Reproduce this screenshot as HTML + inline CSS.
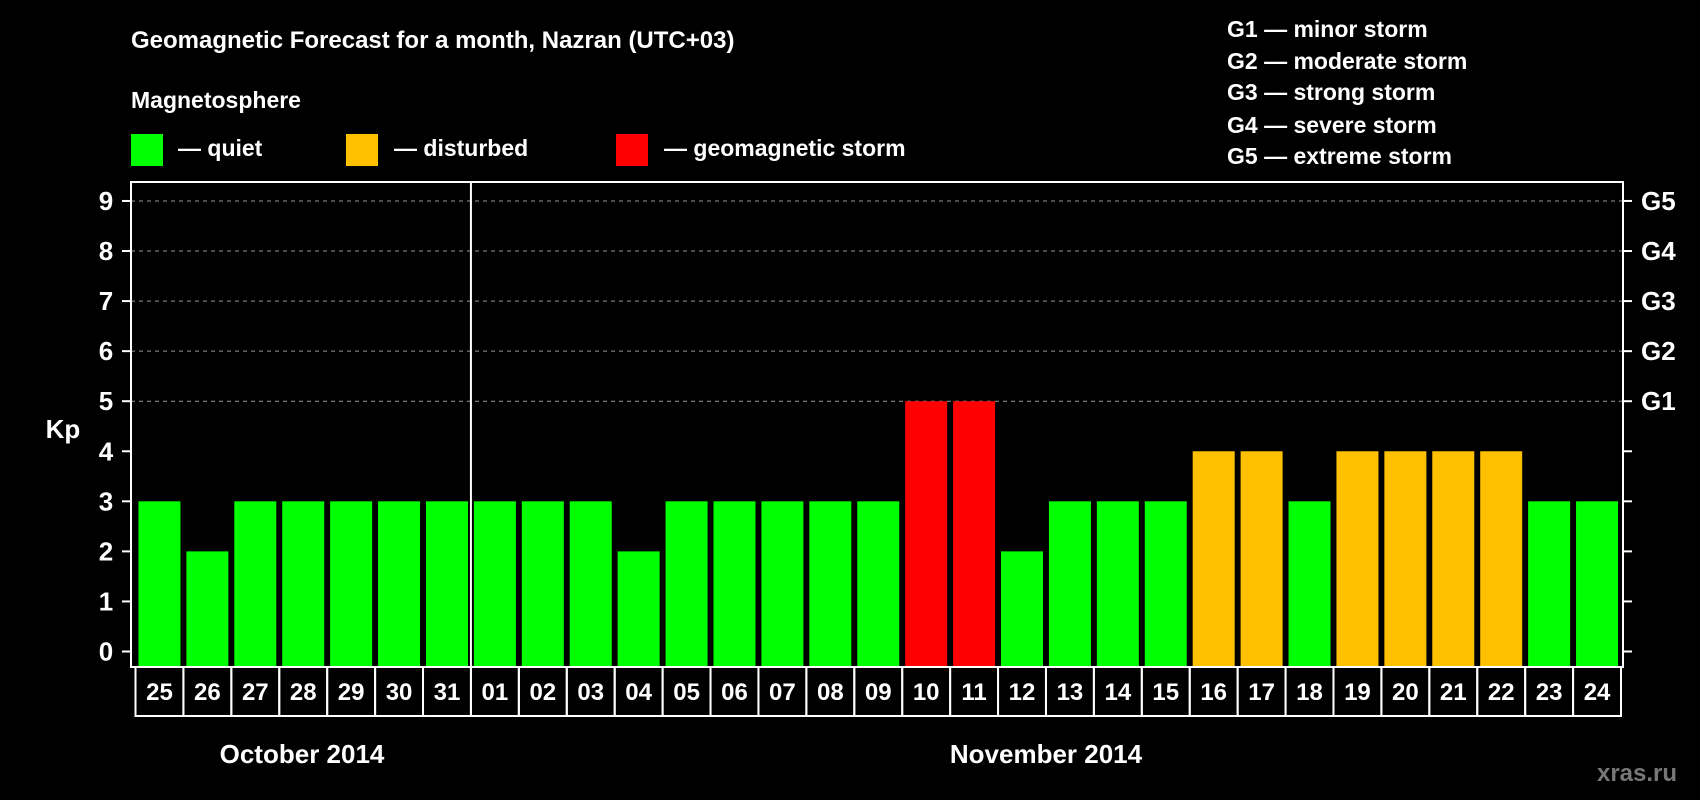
<!DOCTYPE html>
<html><head><meta charset="utf-8"><style>
body{margin:0;background:#000;width:1700px;height:800px;overflow:hidden}
svg{display:block;font-family:"Liberation Sans",sans-serif;font-weight:bold}
</style></head><body>
<svg id="c" width="1700" height="800">
<text x="131" y="48" fill="#fff" font-size="24">Geomagnetic Forecast for a month, Nazran (UTC+03)</text>
<text x="131" y="108" fill="#fff" font-size="23">Magnetosphere</text>
<rect x="131" y="134" width="32" height="32" fill="#00ff00"/>
<text x="178" y="156" fill="#fff" font-size="23">— quiet</text>
<rect x="346" y="134" width="32" height="32" fill="#ffc000"/>
<text x="394" y="156" fill="#fff" font-size="23">— disturbed</text>
<rect x="616" y="134" width="32" height="32" fill="#ff0000"/>
<text x="664" y="156" fill="#fff" font-size="23">— geomagnetic storm</text>
<g fill="#fff" font-size="23">
<text x="1227" y="37">G1 — minor storm</text>
<text x="1227" y="69">G2 — moderate storm</text>
<text x="1227" y="100">G3 — strong storm</text>
<text x="1227" y="133">G4 — severe storm</text>
<text x="1227" y="164">G5 — extreme storm</text>
</g>
<text x="63" y="438" fill="#fff" font-size="26" text-anchor="middle">Kp</text>
<text x="302" y="763" fill="#fff" font-size="26" text-anchor="middle">October 2014</text>
<text x="1046" y="763" fill="#fff" font-size="26" text-anchor="middle">November 2014</text>
<text x="1637" y="781" fill="#777" font-size="24" text-anchor="middle">xras.ru</text>
<g id="plot"></g>
</svg>
<script>
const days=["25","26","27","28","29","30","31","01","02","03","04","05","06","07","08","09","10","11","12","13","14","15","16","17","18","19","20","21","22","23","24"];
const kp=[3,2,3,3,3,3,3,3,3,3,2,3,3,3,3,3,5,5,2,3,3,3,4,4,3,4,4,4,4,3,3];
const yTicks=[0,1,2,3,4,5,6,7,8,9];
const gLabels=["G1","G2","G3","G4","G5"];
const gLevels=[5,6,7,8,9];
const NS="http://www.w3.org/2000/svg";
const g=document.getElementById('plot');
const L=131,R=1623,T=182,B=667,cellL=135.5,cellR=1621;
const cw=(cellR-cellL)/days.length;
function y(v){return 651.5-v*50.06;}
function xc(i){return cellL+cw*(i+0.5);}
function mk(t,a){const e=document.createElementNS(NS,t);for(const k in a)e.setAttribute(k,a[k]);g.appendChild(e);return e;}
gLevels.forEach(v=>{
 const e=mk('line',{x1:L,x2:R,y1:y(v),y2:y(v),stroke:'#999','stroke-dasharray':'4,4','stroke-width':1});
 
 
});
kp.forEach((v,i)=>{
 const col=v>=5?'#ff0000':(v>=4?'#ffc000':'#00ff00');
 const e=mk('rect',{x:xc(i)-21,y:y(v),width:42,height:B-y(v),fill:col});
 
 
});
const box=mk('rect',{x:L,y:T,width:R-L,height:B-T,fill:'none',stroke:'#fff','stroke-width':2});


const dv=mk('line',{x1:cellL+cw*7,x2:cellL+cw*7,y1:T,y2:B,stroke:'#fff','stroke-width':2});


yTicks.forEach(v=>{
 const a=mk('line',{x1:L-9,x2:L,y1:y(v),y2:y(v),stroke:'#fff','stroke-width':2});
 
 
 const b=mk('line',{x1:R,x2:R+9,y1:y(v),y2:y(v),stroke:'#fff','stroke-width':2});
 
 
 const t=mk('text',{x:106,y:y(v)+9,fill:'#fff','font-size':26,'text-anchor':'middle'});
 t.textContent=v;
 
 
});
gLabels.forEach((s,i)=>{
 const t=mk('text',{x:1641,y:y(gLevels[i])+9,fill:'#fff','font-size':26});
 t.textContent=s;
 
 
});
days.forEach((d,i)=>{
 const r=mk('rect',{x:cellL+cw*i,y:B,width:cw,height:49,fill:'none',stroke:'#fff','stroke-width':2});
 
 
 const t=mk('text',{x:xc(i),y:B+33,fill:'#fff','font-size':24,'text-anchor':'middle'});
 t.textContent=d;
 
 
});
</script>
</body></html>
